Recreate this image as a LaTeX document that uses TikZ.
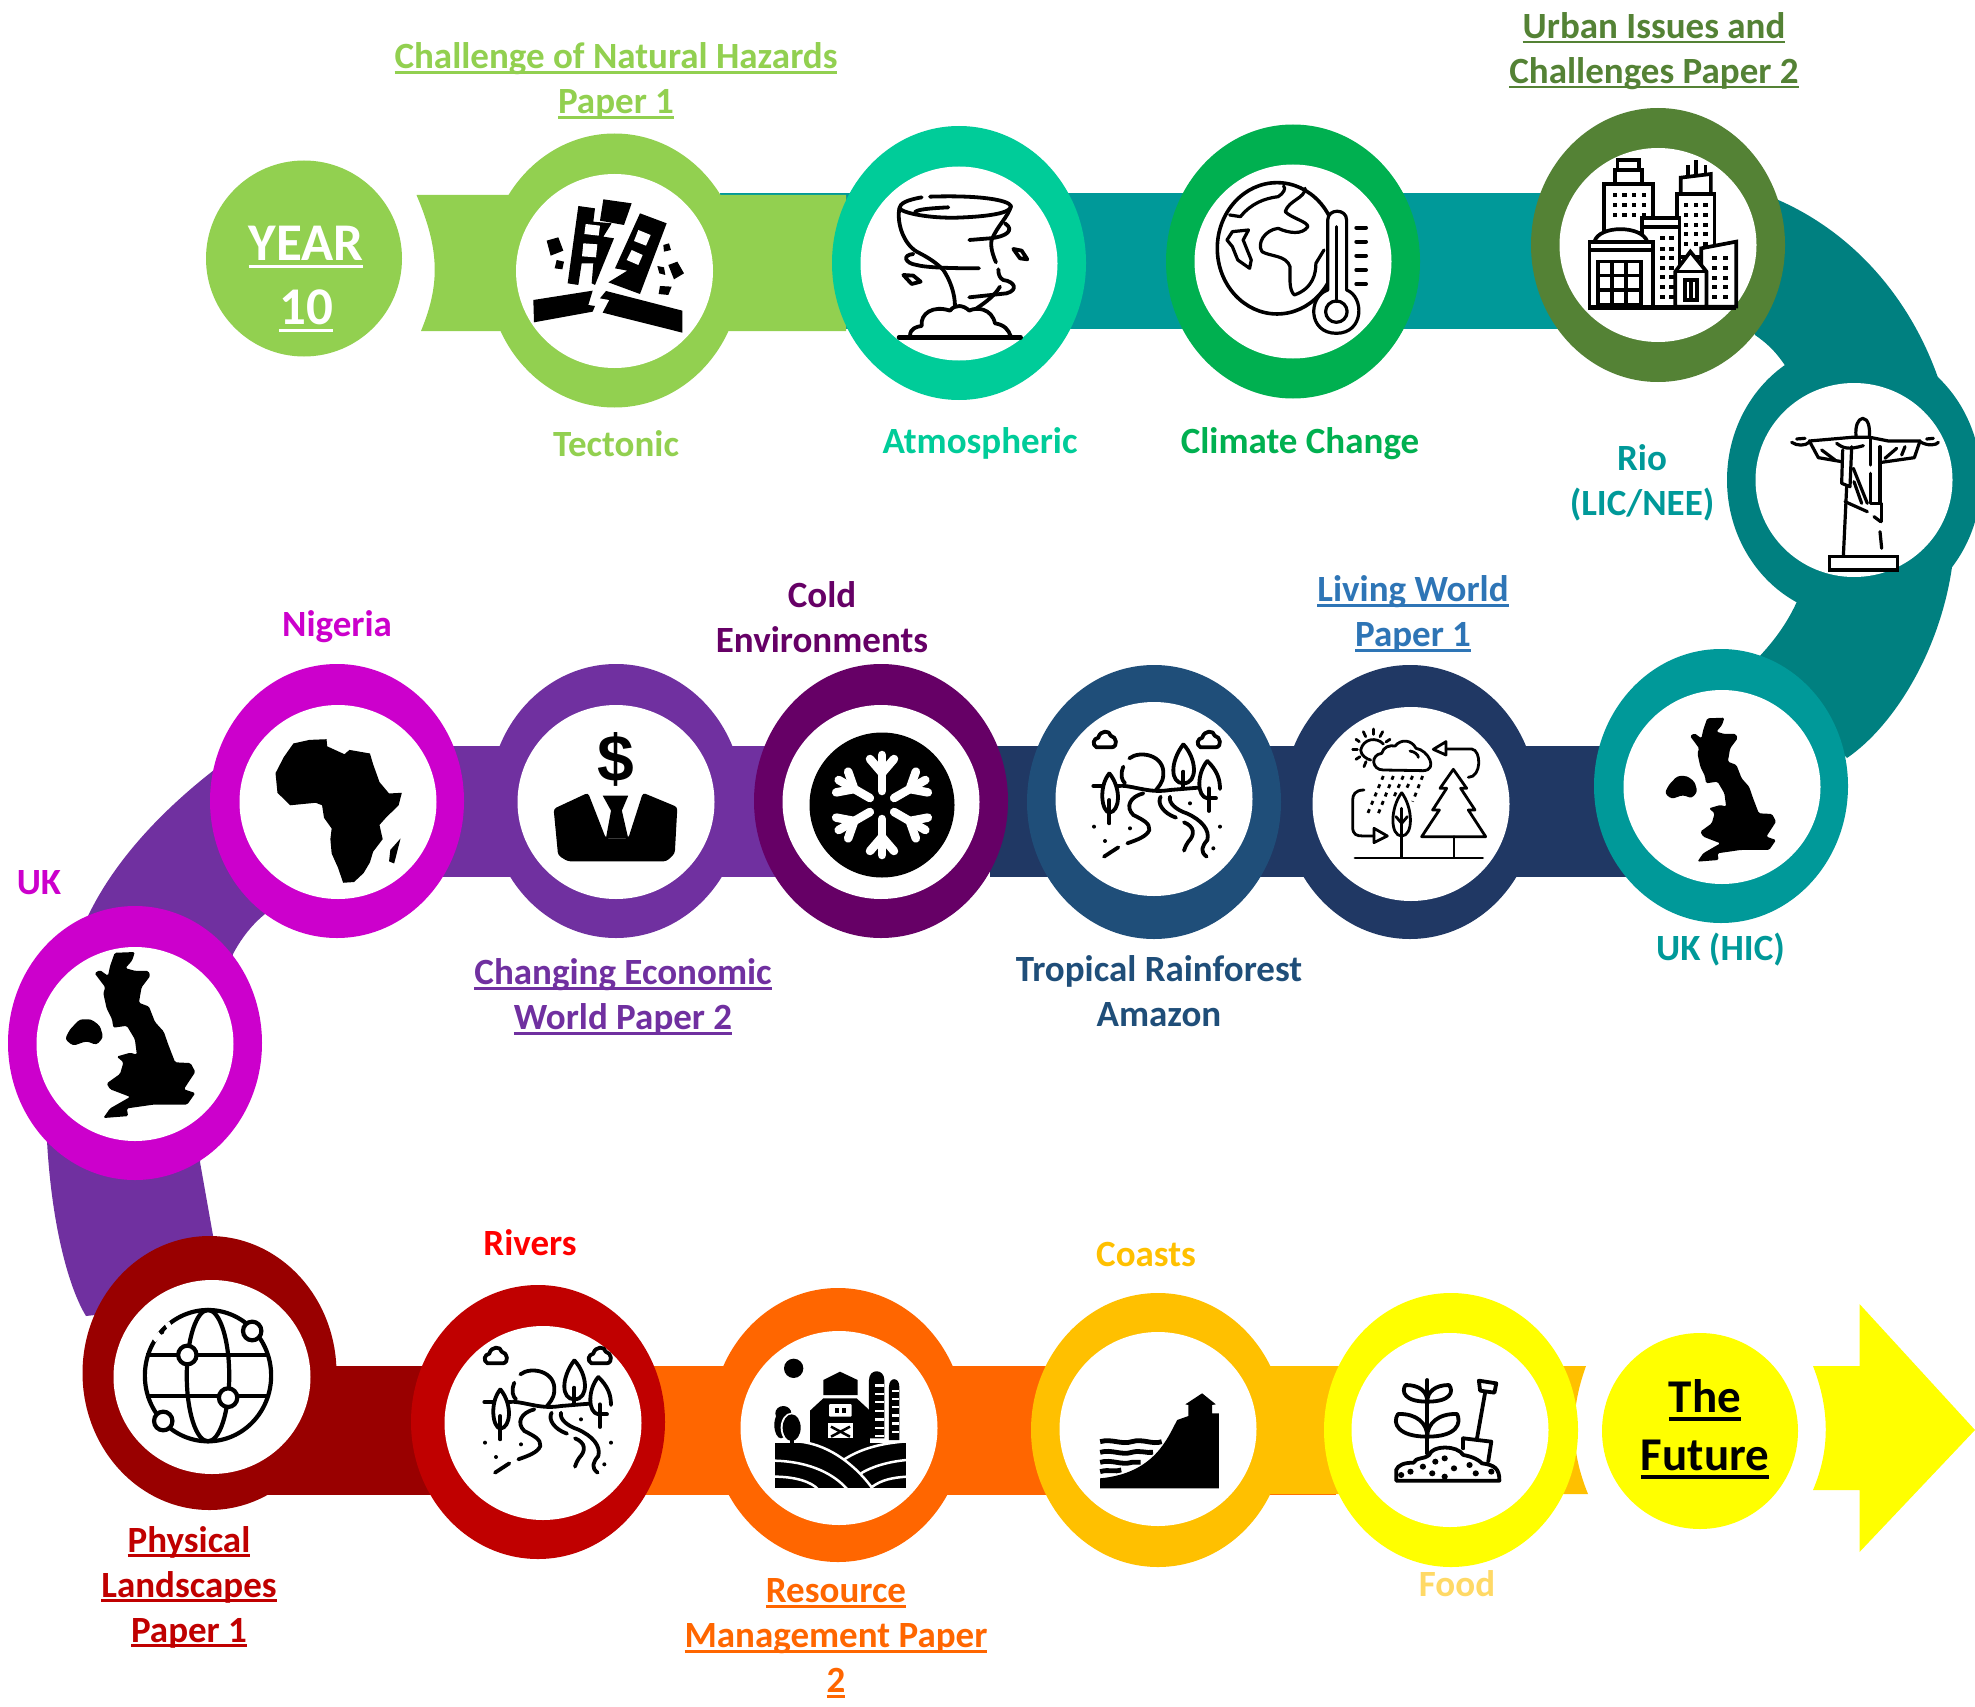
\documentclass[tikz,border=0pt]{standalone}
\usepackage{fontspec}
\setmainfont{Carlito}
\usetikzlibrary{shapes.geometric}
\newfontfamily\dollarfont{Liberation Sans}
\definecolor{cTect}{HTML}{92D050}
\definecolor{cAtm}{HTML}{00CC99}
\definecolor{cClim}{HTML}{00B050}
\definecolor{cUrban}{HTML}{548235}
\definecolor{cTeal}{HTML}{009999}
\definecolor{cDTeal}{HTML}{008080}
\definecolor{cLive}{HTML}{203864}
\definecolor{cTrop}{HTML}{1F4E79}
\definecolor{cLiveT}{HTML}{2E75B6}
\definecolor{cCold}{HTML}{660066}
\definecolor{cPurp}{HTML}{7030A0}
\definecolor{cMag}{HTML}{CC00CC}
\definecolor{cPhys}{HTML}{990000}
\definecolor{cRiv}{HTML}{C00000}
\definecolor{cOr}{HTML}{FF6600}
\definecolor{cAmb}{HTML}{FFC000}
\definecolor{cYel}{HTML}{FFFF00}
\definecolor{cFood}{HTML}{FFD966}
\newcommand{\uln}[1]{\setbox0=\hbox{#1}\leavevmode\rlap{\raisebox{-5pt}{\rule{\wd0}{2.6pt}}}\box0}
\newcommand{\ulb}[1]{\setbox0=\hbox{#1}\leavevmode\rlap{\raisebox{-8pt}{\rule{\wd0}{3.6pt}}}\box0}
\tikzset{
 ringo/.style={shape=ellipse,inner sep=0pt,draw=none,minimum width=254pt,minimum height=274pt},
 holec/.style={shape=ellipse,inner sep=0pt,draw=none,fill=white,minimum width=197pt,minimum height=194pt},
 lbl/.style={inner sep=0pt,align=center,font=\fontsize{37}{45}\selectfont\bfseries},
 ic/.style={line width=3.8pt,line cap=round,line join=round},
 ict/.style={line width=3.2pt,line cap=round,line join=round},
 disc/.style={shape=circle,inner sep=0pt,draw=none}
}
\newcommand{\rivericon}[2]{%
\begin{scope}[shift={(#1,#2)},x=.3333pt,y=-.3333pt,ic]
\foreach \d in {0,312}{
\draw[shift={(\d,0)}] (80,97) .. controls (65,90) and (70,70) .. (85,68) .. controls (90,45) and (120,45) .. (122,62) .. controls (140,65) and (145,95) .. (125,97) -- cycle;}
\draw (160,155) .. controls (150,180) and (155,195) .. (165,205);
\draw (178,130) .. controls (210,105) and (285,120) .. (280,180) .. controls (278,205) and (265,215) .. (258,225);
\draw (70,213) -- (150,213);
\draw (155,212) .. controls (200,215) and (240,235) .. (300,225) -- (385,218);
\draw[fill=white] (118,175) .. controls (85,215) and (95,290) .. (118,293) .. controls (150,290) and (155,220) .. (118,175);
\draw (118,255) -- (118,325);
\draw[fill=white] (340,88) .. controls (300,140) and (300,205) .. (340,205) .. controls (385,205) and (380,130) .. (340,88);
\draw (340,170) -- (340,215);
\draw[fill=white] (412,138) .. controls (380,175) and (380,245) .. (412,250);
\draw (412,138) .. controls (440,165) and (450,190) .. (450,222);
\draw (417,220) -- (417,288); \draw (417,250) -- (438,250);
\draw (220,235) .. controls (180,245) and (165,275) .. (190,300) .. controls (220,315) and (240,325) .. (238,345) .. controls (230,365) and (200,375) .. (172,385);
\draw (272,245) .. controls (260,265) and (280,295) .. (318,308);
\draw (300,245) .. controls (295,265) and (320,285) .. (350,295) .. controls (395,315) and (420,345) .. (412,375) .. controls (395,395) and (390,410) .. (410,425);
\draw (342,322) .. controls (375,335) and (375,360) .. (355,380) .. controls (345,395) and (345,400) .. (342,407);
\draw (102,425) -- (145,397);
\foreach \p in {(72,335),(180,340),(105,378),(360,265),(450,335),(430,400)} \fill \p ellipse (6 and 6);
\end{scope}}
\newcommand{\ukicon}[4]{%
\begin{scope}[shift={(#1,#2)},x=#3pt,y=-#4pt]
\fill[rounded corners=1.5pt] (1232,205) -- (1262,203) -- (1258,225) -- (1248,245) -- (1262,252) -- (1282,252) -- (1285,265) -- (1272,295) -- (1268,335) -- (1283,345) -- (1292,385) -- (1305,410) -- (1312,445) -- (1322,490) -- (1345,492) -- (1352,515) -- (1335,560) -- (1352,570) -- (1340,600) -- (1290,600) -- (1250,610) -- (1252,630) -- (1215,635) -- (1225,610) -- (1255,580) -- (1225,560) -- (1220,545) -- (1240,520) -- (1245,490) -- (1235,475) -- (1255,465) -- (1265,470) -- (1262,430) -- (1250,395) -- (1230,400) -- (1228,378) -- (1220,350) -- (1215,310) -- (1218,295) -- (1202,258) -- (1210,250) -- (1222,265) -- (1225,240) -- cycle;
\fill[rounded corners=3pt] (1180,378) -- (1197,378) -- (1210,395) -- (1215,425) -- (1205,445) -- (1190,435) -- (1170,447) -- (1158,430) -- (1165,405) -- cycle;
\end{scope}}
\begin{document}
\begin{tikzpicture}[x=1pt,y=-1pt]
\path[use as bounding box] (0,0) rectangle (1975,1707);
\clip (0,0) rectangle (1975,1707);
\fill[white] (0,0) rectangle (1975,1707);
% ---------- bands row 1
\fill[cTeal] (720,193) rectangle (1680,329);
\fill[cTect] (416.5,195) .. controls (440,250) and (440,285) .. (421,331) -- (846,331) -- (846,195) -- cycle;
\fill[cDTeal] (1700,190) -- (1776,199) .. controls (1860,235) and (1920,310) .. (1945,400) -- (1952,567) .. controls (1940,650) and (1895,725) .. (1847,758) -- (1757,659) .. controls (1775,640) and (1790,620) .. (1801,592) -- (1850,480) -- (1786,367) .. controls (1775,350) and (1765,342) .. (1755,335) -- cycle;
% ---------- bands row 2
\fill[cLive] (990,746) rectangle (1660,877);
\fill[cPurp] (214,770) .. controls (150,820) and (110,870) .. (88,916) -- (47,1141) .. controls (52,1230) and (70,1290) .. (86,1316) -- (230,1300) -- (214,1241) -- (200,1162) -- (233,954) .. controls (243,935) and (255,922) .. (265,914) -- (300,800) -- cycle;
\fill[cPurp] (430,746) rectangle (800,877);
% ---------- bands row 3
\fill[cOr] (640,1366) rectangle (1336,1495);
\fill[cPhys] (260,1366) rectangle (450,1495);
\fill[cAmb] (1200,1366) -- (1586,1366) .. controls (1570,1410) and (1570,1450) .. (1588,1494) -- (1200,1494) -- cycle;
% ---------- rings row 1
\node[disc,fill=cTect,minimum size=196pt] (yr) at (304,258.5) {};
\node[ringo,fill=cTect] (tect) at (614.5,270.5) {};
\node[holec] (tecth) at (614.5,271) {};
\node[ringo,fill=cAtm] (atm) at (959,263) {};
\node[holec] (atmh) at (959,263.5) {};
\node[ringo,fill=cClim] (clim) at (1293,261.5) {};
\node[holec] (climh) at (1293,261.5) {};
\node[ringo,fill=cUrban] (urb) at (1658,245) {};
\node[holec] (urbh) at (1658,245) {};
\node[ringo,fill=cDTeal] (rio) at (1854,480) {};
\node[holec] (rioh) at (1854,480) {};
% ---------- rings row 2
\node[ringo,fill=cTeal] (ukh) at (1721,786) {};
\node[holec] (ukhh) at (1722,787) {};
\node[ringo,fill=cLive] (live) at (1410,802) {};
\node[holec] (liveh) at (1411,804) {};
\node[ringo,fill=cTrop] (trop) at (1154,802) {};
\node[holec] (troph) at (1154,799) {};
\node[ringo,fill=cPurp] (econ) at (616,801) {};
\node[holec] (econh) at (616,802) {};
\node[ringo,fill=cCold] (cold) at (881,801) {};
\node[holec] (coldh) at (881,802) {};
\node[ringo,fill=cMag] (nig) at (337,801) {};
\node[holec] (nigh) at (338,802) {};
\node[ringo,fill=cMag] (ukl) at (135,1043) {};
\node[holec] (uklh) at (135,1044) {};
% ---------- rings row 3
\node[ringo,fill=cPhys] (phys) at (209.5,1373) {};
\node[holec] (physh) at (212,1377) {};
\node[ringo,fill=cRiv] (riv) at (538,1422) {};
\node[holec] (rivh) at (543,1423) {};
\node[ringo,fill=cOr] (res) at (838,1425) {};
\node[holec] (resh) at (839,1428) {};
\node[ringo,fill=cAmb] (coast) at (1158,1430) {};
\node[holec] (coasth) at (1158,1429) {};
\node[ringo,fill=cYel] (food) at (1451,1430) {};
\node[holec] (foodh) at (1450,1430) {};
\node[disc,fill=cYel,minimum size=196pt] (fut) at (1700,1431) {};
% arrow
\fill[cYel] (1813,1366) .. controls (1830,1410) and (1830,1450) .. (1813,1490) -- (1859.5,1490) -- (1859.5,1552) -- (1975,1430) -- (1859.5,1304) -- (1859.5,1366) -- cycle;
% ---------- earthquake icon
\begin{scope}[shift={(520,180)},x=.3333pt,y=-.3333pt]
\fill (175,78) -- (225,85) -- (220,125) -- (275,130) -- (250,170) -- (282,175) -- (225,315) -- (215,310) -- (220,250) -- (185,250) -- (175,315) -- (143,310) -- cycle;
\fill[white] (197,132) -- (240,137) -- (236,167) -- (193,162) -- cycle;
\fill[white] (190,190) -- (232,193) -- (228,232) -- (186,229) -- cycle;
\fill (250,58) -- (335,70) -- (312,135) -- (240,122) -- cycle;
\fill (360,100) -- (440,130) -- (360,342) -- (265,307) -- (322,272) -- (285,265) -- cycle;
\fill[white] (355,150) -- (392,165) -- (378,197) -- (342,183) -- cycle;
\fill[white] (335,210) -- (368,225) -- (355,255) -- (320,240) -- cycle;
\fill (80,182) -- (115,172) -- (130,212) -- (92,227) -- cycle;
\fill (110,240) -- (132,245) -- (127,268) -- (104,265) -- cycle;
\fill (430,195) -- (447,190) -- (453,210) -- (432,215) -- cycle;
\fill (412,258) -- (432,262) -- (436,285) -- (418,280) -- cycle;
\fill (445,255) -- (472,245) -- (492,280) -- (462,298) -- cycle;
\fill (420,318) -- (455,320) -- (445,345) -- (416,342) -- cycle;
\fill (40,360) -- (218,332) -- (205,375) -- (225,378) -- (218,395) -- (42,427) -- cycle;
\fill (258,333) -- (487,392) -- (487,458) -- (248,398) -- (268,360) -- (240,355) -- cycle;
\end{scope}
% ---------- tornado icon
\begin{scope}[shift={(880,180)},x=.3333pt,y=-.3333pt,ic]
\draw (125,52) .. controls (80,60) and (60,70) .. (58,85) .. controls (70,100) and (150,115) .. (230,113) .. controls (320,110) and (395,100) .. (393,78) .. controls (385,60) and (300,45) .. (150,50);
\draw (205,82) .. controls (150,85) and (110,88) .. (105,97);
\draw (58,85) .. controls (50,130) and (70,190) .. (110,215) .. controls (150,235) and (170,250) .. (190,270) .. controls (210,300) and (225,340) .. (225,380);
\draw (100,222) .. controls (65,225) and (75,250) .. (110,255) .. controls (135,262) and (200,265) .. (297,265);
\draw (393,78) .. controls (385,110) and (350,140) .. (335,180) .. controls (330,200) and (340,230) .. (348,247);
\draw (375,130) .. controls (405,150) and (380,170) .. (330,175) -- (268,180);
\draw (355,268) .. controls (355,285) and (360,295) .. (370,300) .. controls (405,305) and (415,330) .. (380,340) -- (268,352);
\draw (360,320) .. controls (345,345) and (320,365) .. (290,385);
\draw (400,207) -- (425,212) -- (442,238) -- (420,235) -- cycle;
\draw (70,285) -- (100,287) -- (122,305) -- (95,312) -- cycle;
\draw (90,468) .. controls (90,445) and (110,440) .. (125,438) .. controls (120,400) and (160,375) .. (210,392) .. controls (225,372) and (250,375) .. (268,392) .. controls (290,380) and (335,385) .. (345,430) .. controls (375,435) and (385,450) .. (392,468);
\draw[line width=4.5pt] (57,472) -- (422,472);
\end{scope}
% ---------- climate icon
\begin{scope}[shift={(1130,100)},x=.5388pt,y=-.3333pt,ict]
\draw[line width=3.6pt] (273,445) ellipse (111 and 197);
\draw (185,345) -- (205,350) .. controls (225,310) and (250,295) .. (275,290) .. controls (285,280) and (290,265) .. (285,258);
\draw (325,265) .. controls (325,295) and (295,300) .. (288,335) .. controls (300,355) and (330,365) .. (330,380) .. controls (320,405) and (295,400) .. (275,385) .. controls (250,390) and (235,430) .. (245,455) .. controls (260,470) and (290,465) .. (297,500) .. controls (297,540) and (295,570) .. (305,585) .. controls (340,565) and (345,520) .. (345,490) -- (360,450);
\draw (190,395) -- (220,390) -- (210,420) -- (225,480) -- (222,505) -- (200,480) -- (190,440) -- (180,420) -- cycle;
\draw[fill=white] (367,360) .. controls (367,325) and (402,325) .. (402,360) -- (402,570) .. controls (435,590) and (435,700) .. (383,700) .. controls (330,700) and (330,590) .. (367,570) -- cycle;
\draw (383,380) -- (383,605);
\draw (383,635) ellipse (20 and 32);
\foreach \y in {383,425,467,510,552} \draw[line width=4pt] (420,\y) -- (438,\y);
\end{scope}
% ---------- city icon
\begin{scope}[shift={(1130,100)},x=.5388pt,y=-.3333pt,line width=3.7pt,line join=miter]
\draw[fill=white] (905,180) rectangle (945,210);
\draw[fill=white] (900,210) rectangle (950,252);
\draw[fill=white] (880,252) rectangle (970,400);
\foreach \x in {900,918,936,954} \foreach \y in {285,315,345} \fill (\x-4,\y-6) rectangle (\x+4,\y+6);
\draw (1035,225) -- (1035,195); \draw (1050,225) -- (1050,180); \draw (1068,225) -- (1068,195);
\draw[fill=white] (1022,233) -- (1078,222) -- (1078,283) -- (1022,283) -- cycle;
\draw[fill=white] (1015,283) rectangle (1085,470);
\foreach \x in {1032,1050,1068} \foreach \y in {315,345,375,402,432} \fill (\x-4,\y-6) rectangle (\x+4,\y+6);
\draw[fill=white] (950,355) rectangle (1020,620);
\draw (950,380) -- (1020,380);
\foreach \x in {988,1005} \foreach \y in {415,447,475,503,531,560,590} \fill (\x-4,\y-6) rectangle (\x+4,\y+6);
\draw[fill=white] (862,425) .. controls (870,375) and (950,375) .. (960,425);
\draw[fill=white] (853,425) rectangle (970,620);
\draw (853,450) -- (970,450);
\draw[fill=white] (868,485) rectangle (948,615);
\draw (895,485) -- (895,615); \draw (921,485) -- (921,615);
\draw (868,527) -- (948,527); \draw (868,570) -- (948,570);
\draw[fill=white] (1060,445) -- (1125,425) -- (1125,620) -- (1060,620) -- cycle;
\foreach \x in {1085,1105} \foreach \y in {475,505,535,560,590} \fill (\x-4,\y-6) rectangle (\x+4,\y+6);
\draw[fill=white] (1012,515) -- (1040,455) -- (1070,515) -- (1070,620) -- (1012,620) -- cycle;
\draw (1012,515) -- (1070,515);
\draw (1030,540) rectangle (1052,600); \draw (1041,540) -- (1041,600);
\draw[line width=5pt] (850,622) -- (1125,622);
\end{scope}
% ---------- statue icon
\begin{scope}[shift={(1780,405)},x=.3333pt,y=-.3333pt,ict]
\draw (228,95) .. controls (225,60) and (235,42) .. (248,40) .. controls (265,42) and (270,65) .. (268,95);
\draw (88,108) -- (215,97) -- (270,97) -- (325,108) -- (420,108);
\draw (88,108) -- (115,158) -- (185,170);
\draw (420,108) -- (403,158) -- (305,172);
\draw (35,112) .. controls (50,122) and (75,125) .. (90,110); \draw (50,102) -- (75,100);
\draw (420,110) .. controls (445,125) and (470,120) .. (475,112); \draw (440,102) -- (460,100);
\draw (170,115) .. controls (190,130) and (205,135) .. (250,122);
\draw (215,125) -- (210,245) -- (185,235) -- (188,135);
\draw (272,100) -- (272,180); \draw (272,205) -- (272,295) -- (300,295) -- (300,125);
\draw (200,245) -- (190,455);
\draw (305,295) -- (305,350); \draw (300,380) -- (305,430);
\draw (220,190) -- (262,295); \draw (222,230) -- (245,295);
\draw (195,290) -- (262,320); \draw (282,335) -- (302,350);
\draw (125,135) -- (165,165); \draw (375,125) -- (365,150); \draw (350,130) -- (315,160);
\draw[fill=white,line width=3.4pt,line join=miter] (148,455) rectangle (352,495);
\end{scope}
% ---------- UK icons
\ukicon{1000}{650}{.574}{.3333}
\ukicon{-712.7}{874}{.6716}{.3843}
% ---------- rain icon
\begin{scope}[shift={(1340,720)},x=.3333pt,y=-.3333pt,line width=2.8pt,line cap=round,line join=round]
\draw (130,72) .. controls (110,50) and (70,55) .. (62,90) .. controls (62,105) and (80,118) .. (92,120);
\draw (100,27) -- (100,43); \draw (70,35) -- (77,50); \draw (128,35) -- (120,50); \draw (150,58) -- (138,66);
\draw (48,58) -- (58,65); \draw (38,88) -- (52,88); \draw (48,118) -- (60,110); \draw (72,140) -- (78,125);
\draw (130,150) .. controls (95,150) and (90,105) .. (125,100) .. controls (130,80) and (150,75) .. (165,78) .. controls (185,55) and (215,60) .. (228,85) .. controls (265,90) and (295,150) .. (250,152) -- cycle;
\draw (210,93) .. controls (225,95) and (235,105) .. (235,112);
\draw (280,88) -- (318,65) -- (318,105) -- cycle;
\draw (318,87) -- (395,87) .. controls (425,90) and (425,172) .. (385,172);
\foreach \a/\b/\c/\d in {130/168/80/288,160/168/112/288,190/168/160/235,218/168/195/215,248/168/218/245}
  \draw[dash pattern=on 4pt off 5pt,line cap=butt] (\a,\b) -- (\c,\d);
\draw (72,210) .. controls (45,210) and (38,225) .. (38,240) -- (38,320) .. controls (38,345) and (50,348) .. (70,348) -- (102,348);
\draw (102,325) -- (142,348) -- (102,368) -- cycle;
\draw (185,218) .. controls (150,265) and (150,348) .. (185,348) .. controls (220,348) and (220,265) .. (185,218);
\draw (185,265) -- (185,412); \draw (185,310) -- (168,290); \draw (185,310) -- (202,290);
\draw (340,148) -- (380,205) -- (362,205) -- (405,270) -- (385,270) -- (437,350) -- (245,350) -- (298,270) -- (278,270) -- (320,205) -- (300,205) -- cycle;
\draw (342,350) -- (342,412);
\draw (45,414) -- (428,414);
\end{scope}
% ---------- river icons
\rivericon{1070}{715}
\rivericon{461}{1331}
% ---------- Africa
\begin{scope}[x=.6378pt,y=-.3571pt,shift={(0,1820)}]
\fill (460,262) -- (485,252) -- (512,250) -- (513,270) -- (540,292) -- (548,280) -- (580,290) -- (585,320) -- (595,370) -- (610,402) -- (630,400) -- (625,435) -- (605,470) -- (595,490) -- (600,530) -- (585,565) -- (580,595) -- (570,625) -- (555,650) -- (538,652) -- (530,610) -- (520,570) -- (518,530) -- (520,500) -- (508,470) -- (505,435) -- (495,428) -- (455,435) -- (435,400) -- (432,345) -- (445,300) -- cycle;
\fill (628,528) -- (622,570) -- (618,598) -- (610,592) -- (612,560) -- cycle;
% businessman
\fill[rounded corners=3pt] (868,445) -- (922,400) -- (950,528) -- (985,528) -- (1008,400) -- (1062,440) -- (1058,570) -- (1045,592) -- (890,592) -- (875,575) -- cycle;
\fill (945,408) -- (985,408) -- (975,450) -- (985,528) -- (950,528) -- (958,450) -- cycle;
\end{scope}
\node[inner sep=0pt,font=\fontsize{66}{66}\dollarfont\bfseries] (dol) at (616,759) {\$};
% ---------- snowflake
\node[disc,fill=black,minimum size=145pt] (snow) at (882,805) {};
\foreach \a in {0,60,...,300}{
\begin{scope}[shift={(882,805)},rotate=\a,line width=8.5pt,line cap=round,draw=white]
\draw (0,-14) -- (0,-50);
\draw (0,-32) -- (-12,-46);
\draw (0,-32) -- (12,-46);
\end{scope}}
% ---------- globe
\begin{scope}[shift={(80,1230)},x=.574pt,y=-.3333pt,line width=4.2pt]
\draw (223,437) ellipse (110 and 197);
\draw[white,line width=6pt] (128,330) -- (140,312);
\fill (143,305) ellipse (4 and 8);
\draw[white,line width=6pt] (150,290) -- (158,282);
\draw (223,437) ellipse (37 and 197);
\draw (115,375) -- (330,375);
\draw (115,497) -- (330,497);
\foreach \p in {(187,375),(258,503),(300,303),(145,573)}
  \draw[fill=white] \p ellipse (16 and 28);
\end{scope}
% ---------- farm
\begin{scope}[shift={(755,1345)},x=.3333pt,y=-.3333pt]
\fill (116,70) ellipse (29 and 29);
\fill (205,105) -- (255,80) -- (308,105) -- (308,150) -- (205,150) -- cycle;
\fill (165,197) -- (205,160) -- (305,160) -- (345,197) -- (345,300) -- (165,300) -- cycle;
\fill[white,rounded corners=1pt] (222,177) rectangle (290,215);
\fill (240,190) rectangle (252,203); \fill (262,190) rectangle (274,203);
\fill[white] (218,235) rectangle (295,280);
\draw[line width=2.5pt] (228,245) -- (285,275); \draw[line width=2.5pt] (285,245) -- (228,275);
\fill (342,280) -- (342,105) .. controls (342,70) and (388,70) .. (388,105) -- (388,280) -- cycle;
\fill (402,285) -- (402,125) .. controls (402,95) and (433,95) .. (433,125) -- (433,285) -- cycle;
\foreach \y in {118,143,168,194,220,245,270} {\fill[white] (360,\y) rectangle (388,\y+7);}
\foreach \y in {135,158,182,208,232,258} {\fill[white] (410,\y) rectangle (433,\y+7);}
\fill (85,205) ellipse (24 and 22);
\fill (78,240) ellipse (20 and 40);
\fill[white] (110,248) ellipse (33 and 45);
\fill (110,248) ellipse (27 and 40);
\draw[line width=4pt] (110,270) -- (110,298);
\fill (60,293) -- (452,293) -- (452,430) -- (60,430) -- cycle;
\draw[white,line width=2.5pt] (135,290) .. controls (230,300) and (310,370) .. (355,434);
\draw[white,line width=2.5pt] (58,347) .. controls (170,350) and (240,390) .. (278,434);
\draw[white,line width=2.5pt] (58,395) .. controls (120,395) and (170,410) .. (190,434);
\draw[white,line width=2.5pt] (455,289) .. controls (370,295) and (310,315) .. (265,345);
\draw[white,line width=2.5pt] (455,345) .. controls (400,350) and (350,365) .. (318,385);
\draw[white,line width=2.5pt] (455,395) .. controls (410,398) and (380,405) .. (352,425);
\fill[white] (347,293) rectangle (455,288);
\end{scope}
% ---------- coast
\begin{scope}[shift={(1000,1270)},x=.6219pt,y=-.3333pt]
\fill (161,625) .. controls (250,610) and (270,500) .. (285,450) -- (303,438) -- (303,405) -- (298,403) -- (325,370) -- (347,403) -- (341,405) -- (341,430) -- (352,430) -- (352,655) -- (161,655) -- cycle;
\begin{scope}[line width=4.8pt]
\draw (161,515) .. controls (180,505) and (195,525) .. (212,515) .. controls (230,505) and (245,525) .. (260,515);
\draw (161,547) .. controls (180,537) and (195,557) .. (212,547) .. controls (225,540) and (235,550) .. (246,547);
\draw (161,577) .. controls (180,567) and (195,587) .. (212,577) -- (226,577);
\draw (161,605) .. controls (175,597) and (185,607) .. (195,600);
\end{scope}
\end{scope}
% ---------- plant
\begin{scope}[shift={(1000,1270)},x=.6219pt,y=-.3333pt,ic]
\draw (687,330) -- (687,550);
\draw (687,395) .. controls (650,395) and (645,365) .. (652,345) .. controls (675,345) and (687,365) .. (687,395);
\draw (687,395) .. controls (725,395) and (730,365) .. (722,345) .. controls (700,345) and (687,365) .. (687,395);
\draw (687,500) .. controls (640,500) and (630,460) .. (640,432) .. controls (670,430) and (687,460) .. (687,500);
\draw (687,500) .. controls (735,500) and (742,460) .. (735,432) .. controls (705,430) and (687,460) .. (687,500);
\draw (780,368) -- (767,505);
\draw (770,332) -- (798,340) -- (795,368) -- (772,362) -- cycle;
\draw (745,505) -- (790,515) -- (785,575);
\draw (745,505) -- (745,535);
\draw[fill=white] (637,632) -- (637,600) .. controls (640,585) and (650,578) .. (665,578) .. controls (670,560) and (680,570) .. (690,555) .. controls (695,525) and (735,525) .. (745,555) .. controls (760,560) and (770,570) .. (775,580) .. controls (795,585) and (803,595) .. (803,632) -- cycle;
\foreach \p in {(660,605),(680,590),(695,610),(715,565),(730,595),(755,585),(765,610),(645,615),(715,620),(790,605),(700,575)} \fill \p ellipse (5 and 9);
\end{scope}
% ---------- labels
\node[lbl,text=white,font=\fontsize{53}{64}\selectfont\bfseries] (yrt) at (306,279) {\ulb{YEAR}\\\ulb{10}};
\node[lbl,font=\fontsize{47}{58}\selectfont\bfseries] (futt) at (1705,1429) {\ulb{The}\\\ulb{Future}};
\node[lbl,text=cTect] (t1) at (616,81) {\uln{Challenge of Natural Hazards}\\\uln{Paper 1}};
\node[lbl,text=cTect] (t2) at (616,444) {Tectonic};
\node[lbl,text=cAtm] (t3) at (980,443) {Atmospheric};
\node[lbl,text=cClim] (t4) at (1300,444) {Climate Change};
\node[lbl,text=cUrban] (t5) at (1654,51) {\uln{Urban Issues and}\\\uln{Challenges Paper 2}};
\node[lbl,text=cTeal] (t6) at (1642,483) {Rio\\(LIC/NEE)};
\node[lbl,text=cTeal] (t7) at (1720.5,950) {UK (HIC)};
\node[lbl,text=cLiveT] (t8) at (1413,614) {\uln{Living World}\\\uln{Paper 1}};
\node[lbl,text=cCold] (t9) at (822,617) {Cold\\Environments};
\node[lbl,text=cMag] (t10) at (337,627) {Nigeria};
\node[lbl,text=cPurp] (t11) at (623,997) {\uln{Changing Economic}\\\uln{World Paper 2}};
\node[lbl,text=cTrop] (t12) at (1159,991) {Tropical Rainforest\\Amazon};
\node[lbl,text=cMag] (t13) at (39,883) {UK};
\node[lbl,text=cRiv] (t14) at (189,1587) {\uln{Physical}\\\uln{Landscapes}\\\uln{Paper 1}};
\node[lbl,text=red] (t15) at (530,1243) {Rivers};
\node[lbl,text=cOr] (t16) at (836,1638) {\uln{Resource}\\\uln{Management Paper}\\\uln{2}};
\node[lbl,text=cAmb] (t17) at (1146,1254) {Coasts};
\node[lbl,text=cFood] (t18) at (1457,1584) {Food};
\end{tikzpicture}
\end{document}
